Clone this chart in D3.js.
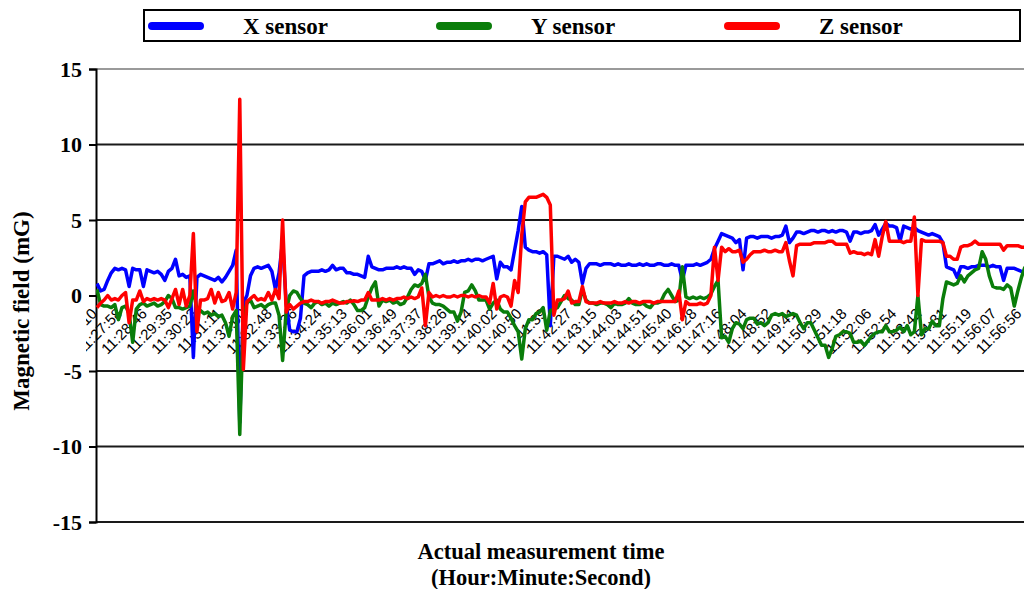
<!DOCTYPE html>
<html>
<head>
<meta charset="utf-8">
<script src="https://cdn.jsdelivr.net/npm/d3@7/dist/d3.min.js"></script>
<style>
    body { margin: 0; background: #fff; }
    svg { display: block; }
</style>
</head>
<body>
<svg></svg>
<script>

/*
*   Data: one reading per sample, labels every 7 samples.
*/

const timeLabels = [
    '11:27:10', '11:27:58', '11:28:46', '11:29:35', '11:30:23', '11:31:11', '11:32:00', '11:32:48',
    '11:33:36', '11:34:24', '11:35:13', '11:36:01', '11:36:49', '11:37:37', '11:38:26', '11:39:14',
    '11:40:02', '11:40:50', '11:41:39', '11:42:27', '11:43:15', '11:44:03', '11:44:51', '11:45:40',
    '11:46:28', '11:47:16', '11:48:04', '11:48:52', '11:49:41', '11:50:29', '11:51:18', '11:52:06',
    '11:52:54', '11:53:42', '11:54:31', '11:55:19', '11:56:07', '11:56:56'
]

const xSensor = [
    0.8, 0.3, 0.4, 1.0, 1.5, 1.8, 1.7,
    1.8, 1.7, 0.6, 1.8, 1.7, 1.7, 0.6,
    1.7, 1.6, 1.5, 1.6, 1.4, 1.0, 1.6,
    1.8, 2.4, 1.3, 1.4, 1.2, 1.3, -4.1,
    1.2, 1.4, 1.3, 1.2, 1.1, 1.0, 1.2,
    0.9, 1.2, 1.6, 2.0, 3.0, -8.4, -0.5,
    0.0, 1.3, 1.8, 1.9, 1.8, 1.9, 2.0,
    1.6, 0.4, 1.5, 3.6, -0.5, -2.3, -2.4,
    -2.4, -1.5, 1.3, 1.5, 1.6, 1.6, 1.6,
    1.7, 1.6, 1.7, 2.0, 1.7, 1.8, 1.8,
    1.5, 1.5, 1.4, 1.4, 1.3, 1.2, 2.6,
    1.9, 1.8, 1.7, 1.7, 1.8, 1.8, 1.8,
    1.9, 1.8, 1.9, 1.8, 1.8, 1.4, 1.7,
    1.6, 1.0, 2.1, 2.1, 2.2, 2.3, 2.1,
    2.2, 2.2, 2.3, 2.2, 2.3, 2.3, 2.4,
    2.3, 2.4, 2.4, 2.3, 2.4, 2.5, 2.6,
    1.1, 2.2, 1.9, 1.9, 1.7, 3.0, 4.3,
    5.9, 3.2, 3.0, 2.9, 2.9, 2.8, 2.9,
    2.7, -2.0, 2.6, 2.6, 2.5, 2.4, 2.6,
    2.2, 2.4, 2.2, 0.8, 1.8, 2.1, 2.1,
    2.1, 2.0, 2.1, 2.1, 2.1, 2.0, 2.1,
    2.0, 2.0, 2.1, 2.0, 2.0, 2.1, 2.0,
    2.1, 2.0, 2.0, 2.1, 2.1, 2.0, 2.0,
    2.1, 2.0, 2.0, 1.0, 2.0, 2.0, 2.0,
    2.1, 2.0, 2.1, 2.2, 2.4, 3.1, 3.6,
    4.1, 4.0, 3.9, 3.8, 3.5, 3.7, 1.7,
    3.8, 3.9, 3.9, 3.8, 3.9, 3.9, 3.9,
    3.8, 3.9, 3.9, 4.0, 4.6, 3.5, 3.8,
    4.2, 4.2, 4.1, 4.2, 4.3, 4.3, 4.2,
    4.3, 4.3, 4.2, 4.3, 4.2, 4.3, 4.3,
    4.2, 3.6, 4.2, 4.2, 4.1, 4.2, 4.2,
    4.3, 4.7, 4.0, 4.4, 4.8, 4.6, 4.6,
    4.5, 3.6, 4.6, 4.5, 4.4, 4.5, 4.3,
    4.2, 4.1, 4.0, 4.1, 4.0, 3.9, 3.5,
    1.9, 1.8, 1.7, 1.2, 1.9, 1.9, 1.8,
    1.9, 1.9, 2.0, 2.0, 2.0, 1.9, 2.0,
    1.9, 1.9, 1.0, 1.8, 1.8, 1.8, 1.7,
    1.6, 1.5
]

const ySensor = [
    0.4, -0.6, -0.7, -0.7, -0.8, -0.6, -1.6,
    -0.8, -0.7, -1.2, -3.1, -0.9, -0.6, -0.5,
    -0.7, -0.6, -0.5, -0.7, -0.6, -0.4, 0.0,
    -0.2, -0.8, -0.8, -0.9, -0.8, -0.7, 0.3,
    -0.9, -1.0, -1.2, -1.1, -1.3, -1.2, -1.4,
    -1.3, -1.8, -2.7, -1.4, -1.0, -9.2, -1.4,
    -0.5, -0.3, -0.8, -0.7, -0.6, -0.8, -0.6,
    -0.5, -0.5, -1.3, -4.3, -1.0, 0.0, 0.3,
    0.2, -0.2, -0.5, -0.6, -0.8, -0.5, -0.4,
    -0.6, -0.5, -0.7, -0.5, -0.6, -0.5, -0.4,
    -0.5, -0.3, -0.6, -1.0, -1.0, -0.8, -0.1,
    0.5, 0.9, -0.7, -0.3, -0.4, -0.3, -0.5,
    -0.4, -0.6, -0.5, -0.1, 0.4, 0.7, 0.6,
    0.8, 1.4, -0.1, -0.5, -0.6, -0.6, -0.7,
    -0.9, -1.1, -1.1, -1.7, -1.1, 0.2, 0.3,
    0.7, 0.3, -0.3, -0.3, -0.3, -0.9, -0.5,
    -0.3, -0.9, -1.1, -1.1, -1.5, -2.0, -2.4,
    -4.2, -2.2, -1.6, -1.6, -1.2, -1.1, -0.8,
    -2.3, -1.0, -0.9, -0.8, -0.4, 0.0, -0.2,
    -0.3, -0.6, -0.6, 0.4, -0.3, -0.5, -0.5,
    -0.6, -0.5, -0.5, -0.6, -0.8, -0.5, -0.6,
    -0.6, -0.5, -0.2, -0.5, -0.6, -0.6, -0.5,
    -0.7, -0.8, -0.5, -0.5, -0.4, 0.1, 0.4,
    0.0, -0.4, -0.3, 1.9, -0.1, -0.2, -0.1,
    -0.2, -0.1, -0.2, -0.1, 0.1, 0.6, 1.0,
    -2.8, -2.7, -3.1, -2.2, -1.8, -1.9, -2.2,
    -1.6, -1.5, -1.5, -1.9, -1.8, -2.0, -1.8,
    -1.3, -1.2, -1.3, -1.2, -1.4, -1.3, -1.2,
    -1.3, -1.8, -2.2, -1.8, -1.8, -2.3, -2.8,
    -3.3, -3.3, -4.1, -3.5, -2.7, -2.6, -2.4,
    -2.4, -2.5, -3.1, -3.1, -3.0, -3.3, -3.0,
    -2.7, -2.5, -2.4, -2.4, -2.0, -2.4, -2.4,
    -2.3, -2.1, -2.4, -2.0, -2.6, -2.4, 0.0,
    -2.6, -2.2, -2.2, -1.7, -2.0, -2.0, -0.2,
    0.9, 0.8, 0.7, 0.8, 1.3, 0.9, 1.3,
    1.5, 1.7, 1.8, 2.9, 2.4, 1.3, 0.6,
    0.5, 0.5, 0.4, 0.7, 0.5, -0.7, 0.3,
    1.2, 1.9
]

const zSensor = [
    -0.8, -0.5, -0.3, 0.0, -0.3, -0.2, -0.3,
    0.0, 0.2, -1.8, -0.3, -0.3, 0.3, -0.4,
    -0.2, -0.3, -0.2, -0.3, -0.2, -0.3, -0.8,
    -0.2, 0.4, -0.6, 0.4, -0.7, 0.0, 4.1,
    -2.4, -0.3, -0.3, -0.2, 0.4, -0.5, 0.2,
    -0.4, -0.3, 0.2, -0.9, 0.2, 13.0, -4.9,
    -0.4, -0.2, 0.0, -0.3, -0.2, -0.3, 0.2,
    -0.3, 0.4, -0.2, 5.0, -1.1, -0.6, -0.9,
    -0.7, -0.5, -0.4, -0.4, -0.3, -0.4, -0.4,
    -0.5, -0.4, -0.4, -0.3, -0.4, -0.5, -0.5,
    -0.4, -0.4, -0.35, -0.4, -0.3, -0.3, 0.2,
    -0.3, -0.3, -0.3, -0.2, -0.3, -0.2, -0.3,
    -0.2, -0.2, -0.1, -0.2, -0.1, -0.2, -0.1,
    0.5, -2.0, 0.2, -0.1, 0.0, -0.1, 0.0,
    -0.1, -0.1, 0.0, -0.1, 0.0, 0.0, -0.1,
    0.0, -0.1, 0.0, -0.1, -0.1, -0.5, 0.8,
    -0.9, -0.1, 0.0, -0.1, -0.7, 1.0, 0.2,
    4.0, 6.2, 6.5, 6.5, 6.5, 6.6, 6.7,
    6.5, 6.0, -1.3, -0.3, -0.3, -0.2, 0.3,
    -0.5, -0.4, -0.4, 0.6, -0.4, -0.5, -0.5,
    -0.5, -0.4, -0.5, -0.5, -0.5, -0.4, -0.5,
    -0.5, -0.4, -0.5, -0.4, -0.4, -0.5, -0.4,
    -0.4, -0.4, -0.5, -0.4, -0.4, -0.4, -0.4,
    -0.4, -0.4, 0.3, -1.6, -0.4, -0.6, -0.6,
    -0.6, -0.5, -0.6, -0.5, 0.0, 3.2, 1.0,
    3.2, 2.9, 3.1, 2.9, 2.9, 3.0, 2.2,
    2.4, 2.7, 2.9, 2.9, 2.9, 3.0, 2.9,
    2.9, 3.0, 2.9, 2.9, 3.5, 2.3, 1.3,
    3.3, 3.4, 3.4, 3.4, 3.4, 3.5, 3.5,
    3.5, 3.5, 3.6, 3.6, 3.4, 3.4, 3.4,
    3.4, 2.8, 2.9, 2.8, 2.8, 2.7, 2.8,
    2.7, 3.7, 2.6, 3.9, 4.9, 3.6, 3.6,
    3.6, 3.6, 3.5, 3.6, 3.6, 5.2, 0.0,
    3.7, 3.6, 3.6, 3.6, 3.6, 3.6, 3.5,
    2.6, 2.6, 2.4, 2.4, 3.2, 3.3, 3.3,
    3.4, 3.6, 3.4, 3.4, 3.4, 3.4, 3.4,
    3.4, 3.4, 3.0, 3.3, 3.3, 3.3, 3.3,
    3.2, 3.2
]

const yTicks = [-15, -10, -5, 0, 5, 10, 15]
const seriesNames = ['X sensor', 'Y sensor', 'Z sensor']
const seriesColors = ['#0000ff', '#0a7d0a', '#ff0000']
const LABEL_EVERY = 7


/*
*   Constants
*/

const WIDTH = 1024
const HEIGHT = 589
const PLOT_LEFT = 96
const PLOT_RIGHT = 1024
const SERIF = '"Liberation Serif", "Times New Roman", serif'


/*
*   Scales
*/

const x = d3.scaleLinear().domain([0, 260]).range([97, 1025])
const y = d3.scaleLinear().domain([-15, 15]).range([522, 69])

const svg = d3.select('svg')
    .attr('width', WIDTH)
    .attr('height', HEIGHT)
    .style('font-family', SERIF)

const defs = svg.append('defs')
defs.append('clipPath').attr('id', 'plot-clip')
    .append('rect').attr('x', PLOT_LEFT).attr('y', 55).attr('width', PLOT_RIGHT - PLOT_LEFT).attr('height', 480)
defs.append('clipPath').attr('id', 'label-clip')
    .append('rect').attr('x', 86).attr('y', 296).attr('width', 940).attr('height', 120)


/*
*   Gridlines
*/

svg.append('g')
    .selectAll('line')
    .data(yTicks.filter(t => t !== 0))
    .join('line')
    .attr('x1', PLOT_LEFT).attr('x2', PLOT_RIGHT)
    .attr('y1', d => y(d)).attr('y2', d => y(d))
    .attr('stroke', d => d === 15 ? '#9a9a9a' : '#1a1a1a')
    .attr('stroke-width', 2)


/*
*   Y axis with bold labels
*/

const yAxis = svg.append('g')
    .attr('transform', `translate(${PLOT_LEFT},0)`)
    .call(d3.axisLeft(y).tickValues(yTicks).tickSize(7).tickPadding(7).tickFormat(d => String(d)))

yAxis.select('.domain').attr('stroke', '#000').attr('stroke-width', 2)
yAxis.selectAll('.tick line').attr('stroke', '#000').attr('stroke-width', 2)
yAxis.selectAll('.tick text')
    .attr('font-family', SERIF)
    .attr('font-size', 22)
    .attr('font-weight', 'bold')
    .attr('fill', '#000')
    .attr('dy', '0.34em')


/*
*   Time labels hanging under the zero line
*/

svg.append('g')
    .attr('clip-path', 'url(#label-clip)')
    .selectAll('text')
    .data(timeLabels)
    .join('text')
    .attr('transform', (d, i) => `translate(${x(i * LABEL_EVERY) + 1},${y(0) + 19}) rotate(-45)`)
    .attr('text-anchor', 'end')
    .attr('font-family', '"Liberation Sans", Arial, sans-serif')
    .attr('font-size', 15)
    .attr('fill', '#000')
    .text(d => d)


/*
*   Zero axis with one tick per sample
*/

const xAxis = svg.append('g')
    .attr('transform', `translate(0,${y(0)})`)
    .attr('clip-path', 'url(#plot-clip)')
    .call(d3.axisBottom(x).tickValues(d3.range(xSensor.length)).tickSize(5).tickFormat(''))

xAxis.select('.domain').remove()
xAxis.selectAll('.tick line').attr('stroke', '#000').attr('stroke-width', 1.2)
xAxis.append('line')
    .attr('x1', PLOT_LEFT).attr('x2', PLOT_RIGHT)
    .attr('stroke', '#000').attr('stroke-width', 2)


/*
*   Series lines
*/

const line = d3.line()
    .x((d, i) => x(i))
    .y(d => y(d))

svg.append('g')
    .attr('clip-path', 'url(#plot-clip)')
    .selectAll('path')
    .data([xSensor, ySensor, zSensor])
    .join('path')
    .attr('d', line)
    .attr('fill', 'none')
    .attr('stroke', (d, i) => seriesColors[i])
    .attr('stroke-width', 3.5)
    .attr('stroke-linejoin', 'round')


/*
*   Axis titles
*/

svg.append('text')
    .attr('transform', 'translate(29,311) rotate(-90)')
    .attr('text-anchor', 'middle')
    .attr('font-size', 23)
    .attr('font-weight', 'bold')
    .text('Magnetic field (mG)')

svg.append('text')
    .attr('x', 541).attr('y', 559)
    .attr('text-anchor', 'middle')
    .attr('font-size', 22.5)
    .attr('font-weight', 'bold')
    .text('Actual measurement time')

svg.append('text')
    .attr('x', 541).attr('y', 585)
    .attr('text-anchor', 'middle')
    .attr('font-size', 22.5)
    .attr('font-weight', 'bold')
    .text('(Hour:Minute:Second)')


/*
*   Legend
*/

const legend = svg.append('g')

legend.append('rect')
    .attr('x', 144).attr('y', 10)
    .attr('width', 876).attr('height', 31)
    .attr('fill', '#fff')
    .attr('stroke', '#000')
    .attr('stroke-width', 2)

const legendX = d3.scalePoint().domain(seriesNames).range([152, 728])

const items = legend.selectAll('g.item')
    .data(seriesNames)
    .join('g')
    .attr('class', 'item')
    .attr('transform', d => `translate(${legendX(d)},26)`)

items.append('line')
    .attr('x1', 0).attr('x2', 48)
    .attr('stroke', (d, i) => seriesColors[i])
    .attr('stroke-width', 8)
    .attr('stroke-linecap', 'round')

items.append('text')
    .attr('x', 91).attr('y', 8)
    .attr('font-size', 23)
    .attr('font-weight', 'bold')
    .text(d => d)

</script>
</body>
</html>
